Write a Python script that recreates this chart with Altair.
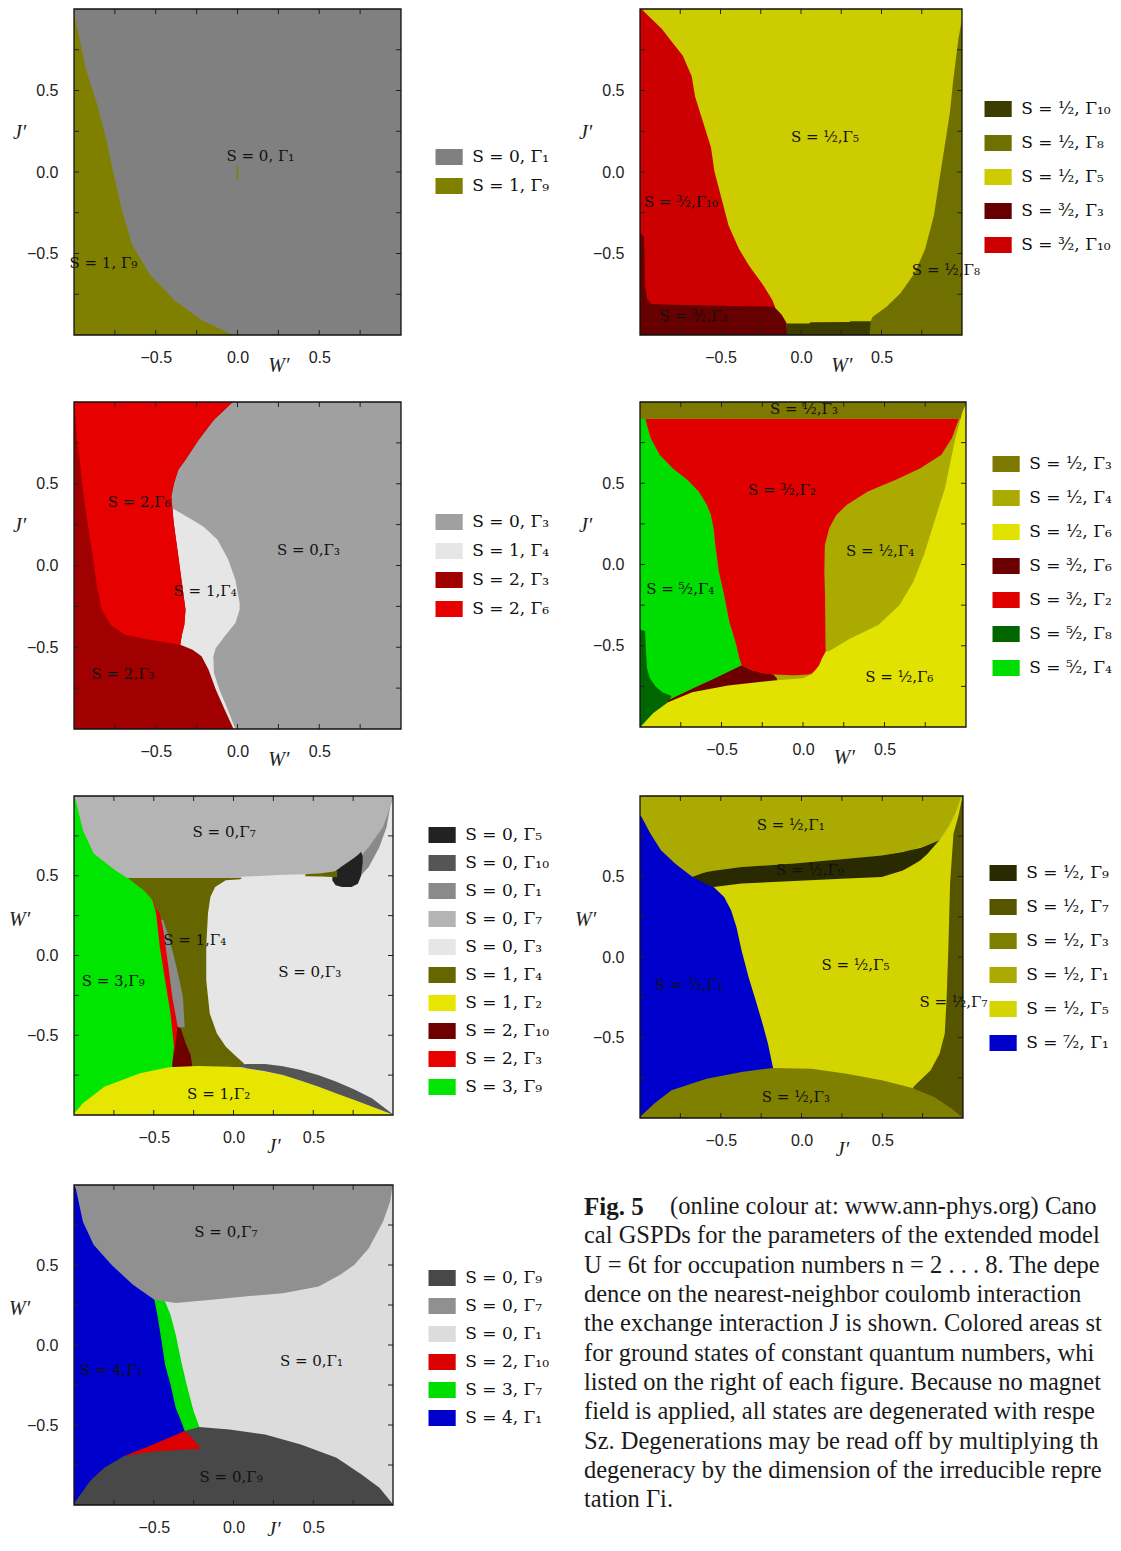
import altair as alt
import pandas as pd

# ---------------- shared tick values ----------------
TICKS = [-0.75, -0.5, -0.25, 0.0, 0.25, 0.5, 0.75]
LABEL_TICKS = [-0.5, 0.0, 0.5]

# ---------------- Panel 1 (n=2) ----------------
P1_STATES = ["S = 0, Γ₁", "S = 1, Γ₉"]
P1_COLORS = ["#808080", "#808000"]
P1_G9_Y = [-1.0, -0.996, -0.914, -0.79, -0.629, -0.446, -0.222, 0.022, 0.226, 0.43, 0.633, 0.93, 0.97]
P1_G9_X = [-0.013, -0.035, -0.209, -0.383, -0.536, -0.645, -0.71, -0.765, -0.808, -0.863, -0.928, -0.99, -1.0]
P1_SEG_X = [0.0]
P1_SEG_LO = [-0.05]
P1_SEG_HI = [0.04]
P1_LAB_T = ["S = 0, Γ₁", "S = 1, Γ₉"]
P1_LAB_X = [0.14, -0.82]
P1_LAB_Y = [0.10, -0.56]

# ---------------- Panel 2 (n=3) ----------------
P2_STATES = ["S = ¹⁄₂, Γ₁₀", "S = ¹⁄₂, Γ₈", "S = ¹⁄₂, Γ₅", "S = ³⁄₂, Γ₃", "S = ³⁄₂, Γ₁₀"]
P2_COLORS = ["#3c3c00", "#707000", "#cccc00", "#660000", "#cc0000"]
P2_RED_Y = [-0.83, -0.786, -0.682, -0.578, -0.473, -0.328, -0.161, 0.005, 0.151, 0.255, 0.359, 0.463, 0.588, 0.713, 0.796, 0.879, 0.994, 1.0]
P2_RED_X = [-0.16, -0.178, -0.243, -0.32, -0.385, -0.45, -0.494, -0.538, -0.559, -0.592, -0.625, -0.658, -0.679, -0.734, -0.80, -0.865, -0.985, -0.99]
P2_DR_X = [-1.0, -0.975, -0.968, -0.955, -0.93, -0.80, -0.5, -0.167, -0.12, -0.09, -0.085]
P2_DR_TOP = [-0.37, -0.40, -0.70, -0.78, -0.81, -0.815, -0.82, -0.827, -0.875, -0.927, -1.0]
P2_BAND_X = [-0.09, 0.05, 0.06, 0.30, 0.31, 0.44]
P2_BAND_TOP = [-0.93, -0.93, -0.922, -0.92, -0.915, -0.915]
P2_G8_Y = [-1.0, -0.915, -0.89, -0.827, -0.744, -0.619, -0.473, -0.265, -0.057, 0.151, 0.359, 0.567, 0.817, 0.94, 1.0]
P2_G8_X = [0.426, 0.433, 0.444, 0.531, 0.618, 0.706, 0.771, 0.826, 0.858, 0.891, 0.924, 0.946, 0.978, 1.0, 1.0]
P2_LAB_T = ["S = ¹⁄₂,Γ₅", "S = ³⁄₂,Γ₁₀", "S = ³⁄₂,Γ₃", "S = ¹⁄₂,Γ₈"]
P2_LAB_X = [0.149, -0.745, -0.668, 0.90]
P2_LAB_Y = [0.213, -0.186, -0.886, -0.60]

# ---------------- Panel 3 (n=4) ----------------
P3_STATES = ["S = 0, Γ₃", "S = 1, Γ₄", "S = 2, Γ₃", "S = 2, Γ₆"]
P3_COLORS = ["#a0a0a0", "#e6e6e6", "#a00000", "#e60000"]
P3_LG_Y = [-1.0, -0.861, -0.759, -0.657, -0.555, -0.505, -0.433, -0.352, -0.27, -0.229, -0.087, 0.036, 0.158, 0.239, 0.29, 0.352]
P3_LG_X = [-0.013, -0.068, -0.111, -0.144, -0.148, -0.133, -0.078, -0.013, 0.013, 0.013, -0.013, -0.057, -0.122, -0.209, -0.296, -0.401]
P3_RED_Y = [-0.484, -0.454, -0.423, -0.362, -0.27, -0.107, 0.056, 0.26, 0.423, 0.505, 0.586, 0.647, 0.77, 0.892, 0.994, 1.0]
P3_RED_LO = [-0.35, -0.536, -0.688, -0.776, -0.83, -0.863, -0.885, -0.917, -0.94, -0.95, -0.958, -0.965, -0.983, -0.99, -0.998, -1.0]
P3_RED_HI = [-0.35, -0.345, -0.34, -0.325, -0.318, -0.34, -0.362, -0.39, -0.405, -0.388, -0.362, -0.318, -0.236, -0.144, -0.035, -0.03]
P3_DR_Y = [-1.0, -0.882, -0.759, -0.637, -0.555, -0.515]
P3_DR_X = [-0.024, -0.078, -0.133, -0.177, -0.22, -0.275]
P3_LAB_T = ["S = 2,Γ₆", "S = 0,Γ₃", "S = 1,Γ₄", "S = 2,Γ₃"]
P3_LAB_X = [-0.601, 0.434, -0.198, -0.70]
P3_LAB_Y = [0.388, 0.097, -0.154, -0.664]

# ---------------- Panel 4 (n=5) ----------------
P4_STATES = ["S = ¹⁄₂, Γ₃", "S = ¹⁄₂, Γ₄", "S = ¹⁄₂, Γ₆", "S = ³⁄₂, Γ₆", "S = ³⁄₂, Γ₂", "S = ⁵⁄₂, Γ₈", "S = ⁵⁄₂, Γ₄"]
P4_COLORS = ["#7d7800", "#aaaa00", "#e2e200", "#6a0000", "#e00000", "#006600", "#00dd00"]
P4_GR_Y = [-0.835, -0.80, -0.76, -0.70, -0.62, -0.579, -0.537, -0.496, -0.353, -0.188, -0.044, 0.12, 0.223, 0.305, 0.367, 0.449, 0.521, 0.593, 0.675, 0.778, 0.897, 1.0]
P4_GR_X = [-0.828, -0.754, -0.67, -0.54, -0.376, -0.39, -0.40, -0.409, -0.452, -0.484, -0.516, -0.538, -0.549, -0.565, -0.59, -0.64, -0.71, -0.80, -0.88, -0.935, -0.968, -0.99]
P4_DG_Y = [-1.0, -0.835, -0.809, -0.788, -0.753, -0.70, -0.64, -0.50, -0.41, -0.40]
P4_DG_X = [-0.82, -0.82, -0.806, -0.86, -0.903, -0.94, -0.957, -0.965, -0.968, -1.0]
P4_DR_X = [-0.828, -0.754, -0.67, -0.54, -0.376, -0.312, -0.183, -0.16, -0.155]
P4_DR_TOP = [-0.835, -0.80, -0.76, -0.70, -0.62, -0.651, -0.677, -0.70, -1.0]
P4_RED_Y = [-0.681, -0.677, -0.671, -0.651, -0.62, -0.579, -0.537, -0.496, -0.353, -0.188, -0.044, 0.12, 0.223, 0.305, 0.367, 0.449, 0.521, 0.593, 0.675, 0.778, 0.897]
P4_RED_LO = [-0.06, -0.183, -0.25, -0.312, -0.376, -0.39, -0.40, -0.409, -0.452, -0.484, -0.516, -0.538, -0.549, -0.565, -0.59, -0.64, -0.71, -0.80, -0.88, -0.935, -0.968]
P4_RED_HI = [-0.05, 0.03, 0.054, 0.075, 0.10, 0.118, 0.14, 0.138, 0.137, 0.135, 0.131, 0.134, 0.161, 0.204, 0.269, 0.398, 0.57, 0.72, 0.849, 0.914, 0.957]
P4_BAND_X = [-1.0, 1.0]
P4_BAND_LO = [0.897, 0.897]
P4_YB_X = [-1.0, -0.989, -0.92, -0.828, -0.68, -0.46, -0.18, 0.0, 0.054, 0.097, 0.118, 0.14, 0.161, 0.29, 0.462, 0.591, 0.677, 0.742, 0.806, 0.871, 0.935, 0.979, 0.996, 1.0]
P4_YB_TOP = [-1.0, -0.99, -0.915, -0.848, -0.786, -0.745, -0.714, -0.70, -0.675, -0.625, -0.575, -0.535, -0.532, -0.455, -0.373, -0.25, -0.106, 0.059, 0.264, 0.47, 0.778, 0.942, 0.98, 0.98]
P4_LAB_T = ["S = ¹⁄₂,Γ₃", "S = ³⁄₂,Γ₂", "S = ¹⁄₂,Γ₄", "S = ⁵⁄₂,Γ₄", "S = ¹⁄₂,Γ₆"]
P4_LAB_X = [0.006, -0.129, 0.473, -0.753, 0.591]
P4_LAB_Y = [0.955, 0.459, 0.083, -0.153, -0.692]

# ---------------- Panel 5 (n=6) ----------------
P5_STATES = ["S = 0, Γ₅", "S = 0, Γ₁₀", "S = 0, Γ₁", "S = 0, Γ₇", "S = 0, Γ₃", "S = 1, Γ₄", "S = 1, Γ₂", "S = 2, Γ₁₀", "S = 2, Γ₃", "S = 3, Γ₉"]
P5_COLORS = ["#222222", "#555555", "#8a8a8a", "#b4b4b4", "#e6e6e6", "#666600", "#e6e600", "#700000", "#e60000", "#00e600"]
P5_G1TR_X = [0.77, 0.848, 0.915, 0.96, 0.982, 1.0]
P5_G1TR_LO = [0.472, 0.555, 0.681, 0.806, 0.931, 0.99]
P5_G7_X = [-1.0, 0.041, 0.05, 0.31, 0.467, 0.624, 0.758, 0.848, 0.937, 0.982, 0.993, 1.0]
P5_G7_LO = [0.478, 0.478, 0.493, 0.507, 0.509, 0.518, 0.576, 0.681, 0.806, 0.931, 0.973, 1.0]
P5_BLK_X = [0.62, 0.64, 0.68, 0.74, 0.78, 0.80, 0.81]
P5_BLK_LO = [0.47, 0.44, 0.43, 0.43, 0.45, 0.50, 0.58]
P5_BLK_HI = [0.50, 0.53, 0.56, 0.60, 0.63, 0.65, 0.62]
P5_SLV_X = [0.45, 0.55, 0.65]
P5_SLV_LO = [0.497, 0.495, 0.49]
P5_SLV_HI = [0.51, 0.515, 0.53]
P5_OL_Y = [-0.70, -0.676, -0.635, -0.572, -0.489, -0.363, -0.154, 0.054, 0.263, 0.367, 0.43, 0.472, 0.478, 0.486]
P5_OL_X = [0.08, 0.064, 0.019, -0.048, -0.104, -0.149, -0.171, -0.171, -0.16, -0.145, -0.115, -0.048, 0.041, 0.055]
P5_G1_Y = [-0.45, -0.259, -0.154, -0.008, 0.117, 0.221, 0.24]
P5_G1_X = [-0.306, -0.317, -0.339, -0.373, -0.406, -0.44, -0.49]
P5_DR_Y = [-0.70, -0.68, -0.62, -0.55, -0.46, -0.44]
P5_DR_X = [-0.26, -0.26, -0.27, -0.30, -0.33, -0.36]
P5_RED_Y = [-0.70, -0.60, -0.447, -0.259, -0.05, 0.159, 0.263, 0.30, 0.35]
P5_RED_X = [-0.39, -0.37, -0.35, -0.384, -0.411, -0.44, -0.462, -0.49, -0.50]
P5_GR_Y = [-1.0, -0.676, -0.572, -0.363, -0.154, 0.054, 0.263, 0.347, 0.409, 0.478, 0.534, 0.639, 0.785, 0.973, 1.0]
P5_GR_X = [-0.384, -0.384, -0.373, -0.395, -0.429, -0.462, -0.485, -0.507, -0.563, -0.653, -0.742, -0.877, -0.944, -0.989, -1.0]
P5_YE_X = [-1.0, -0.944, -0.81, -0.586, -0.406, -0.227, -0.026, 0.086, 0.31, 0.534, 0.758, 0.893, 1.0]
P5_YE_TOP = [-0.99, -0.927, -0.823, -0.739, -0.701, -0.693, -0.697, -0.708, -0.749, -0.823, -0.906, -0.958, -1.0]
P5_DB_X = [0.041, 0.086, 0.198, 0.31, 0.422, 0.534, 0.646, 0.758, 0.87, 0.993]
P5_DB_LO = [-0.696, -0.708, -0.725, -0.749, -0.785, -0.823, -0.865, -0.906, -0.948, -0.996]
P5_DB_HI = [-0.685, -0.681, -0.681, -0.695, -0.718, -0.75, -0.791, -0.84, -0.896, -0.99]
P5_LAB_T = ["S = 0,Γ₇", "S = 1,Γ₄", "S = 0,Γ₃", "S = 3,Γ₉", "S = 1,Γ₂"]
P5_LAB_X = [-0.059, -0.243, 0.478, -0.754, -0.093]
P5_LAB_Y = [0.775, 0.10, -0.102, -0.161, -0.871]

# ---------------- Panel 6 (n=7) ----------------
P6_STATES = ["S = ¹⁄₂, Γ₉", "S = ¹⁄₂, Γ₇", "S = ¹⁄₂, Γ₃", "S = ¹⁄₂, Γ₁", "S = ¹⁄₂, Γ₅", "S = ⁷⁄₂, Γ₁"]
P6_COLORS = ["#2a2a00", "#555500", "#808000", "#aaaa00", "#d4d400", "#0000cc"]
P6_BL_Y = [-1.0, -0.689, -0.538, -0.414, -0.269, -0.124, 0.041, 0.186, 0.29, 0.373, 0.435, 0.50, 1.0]
P6_BL_X = [-0.176, -0.176, -0.208, -0.241, -0.284, -0.328, -0.371, -0.403, -0.436, -0.479, -0.544, -0.60, -0.60]
P6_G1_X = [-1.0, -0.99, -0.935, -0.87, -0.783, -0.675, -0.588, -0.371, -0.046, 0.28, 0.497, 0.67, 0.779, 0.855, 0.909, 0.952, 0.985, 1.0]
P6_G1_LO = [0.88, 0.87, 0.766, 0.663, 0.58, 0.497, 0.528, 0.559, 0.58, 0.611, 0.631, 0.663, 0.694, 0.725, 0.807, 0.89, 0.983, 1.0]
P6_G9_X = [-0.675, -0.588, -0.544, -0.371, -0.046, 0.28, 0.497, 0.627, 0.67, 0.735, 0.779, 0.844, 0.855]
P6_G9_LO = [0.497, 0.45, 0.435, 0.456, 0.472, 0.487, 0.497, 0.538, 0.56, 0.60, 0.64, 0.714, 0.725]
P6_G9_HI = [0.497, 0.528, 0.535, 0.559, 0.58, 0.611, 0.631, 0.652, 0.663, 0.677, 0.694, 0.72, 0.725]
P6_G7_Y = [-1.0, -0.807, -0.704, -0.6, -0.476, -0.269, 0.041, 0.456, 0.766, 0.87, 0.99, 1.0]
P6_G7_X = [0.68, 0.692, 0.8, 0.855, 0.887, 0.898, 0.909, 0.92, 0.941, 0.97, 0.996, 1.0]
P6_G3_X = [-1.0, -0.913, -0.805, -0.588, -0.371, -0.176, 0.063, 0.28, 0.497, 0.681, 0.822, 0.931, 1.0]
P6_G3_TOP = [-0.994, -0.911, -0.828, -0.756, -0.714, -0.689, -0.694, -0.725, -0.766, -0.812, -0.869, -0.942, -1.0]
P6_LAB_T = ["S = ¹⁄₂,Γ₁", "S = ¹⁄₂,Γ₉", "S = ¹⁄₂,Γ₅", "S = ⁷⁄₂,Γ₁", "S = ¹⁄₂,Γ₇", "S = ¹⁄₂,Γ₃"]
P6_LAB_X = [-0.067, 0.052, 0.334, -0.696, 0.941, -0.035]
P6_LAB_Y = [0.818, 0.542, -0.048, -0.176, -0.28, -0.87]

# ---------------- Panel 7 (n=8) ----------------
P7_STATES = ["S = 0, Γ₉", "S = 0, Γ₇", "S = 0, Γ₁", "S = 2, Γ₁₀", "S = 3, Γ₇", "S = 4, Γ₁"]
P7_COLORS = ["#484848", "#909090", "#dcdcdc", "#dd0000", "#00dd00", "#0000cc"]
P7_GR_Y = [-0.55, -0.507, -0.414, -0.247, -0.102, 0.064, 0.189, 0.272, 0.30]
P7_GR_X = [-0.21, -0.216, -0.25, -0.294, -0.328, -0.362, -0.395, -0.429, -0.45]
P7_BL_Y = [-1.0, -0.538, -0.476, -0.393, -0.247, -0.123, 0.023, 0.168, 0.283, 0.30, 1.0]
P7_BL_X = [-0.306, -0.306, -0.328, -0.362, -0.395, -0.429, -0.451, -0.474, -0.496, -0.50, -0.50]
P7_G7_X = [-1.0, -0.989, -0.944, -0.877, -0.765, -0.63, -0.496, -0.362, -0.138, 0.086, 0.31, 0.534, 0.669, 0.758, 0.848, 0.937, 0.982, 0.993, 1.0]
P7_G7_LO = [1.0, 0.979, 0.771, 0.626, 0.501, 0.376, 0.283, 0.262, 0.283, 0.304, 0.324, 0.366, 0.439, 0.501, 0.605, 0.771, 0.896, 0.969, 1.0]
P7_G9_X = [-1.0, -0.899, -0.81, -0.686, -0.5, -0.40, -0.306, -0.216, -0.026, 0.198, 0.422, 0.646, 0.803, 0.915, 1.0]
P7_G9_TOP = [-0.99, -0.85, -0.767, -0.694, -0.65, -0.60, -0.538, -0.513, -0.528, -0.559, -0.622, -0.705, -0.809, -0.892, -0.996]
P7_RED_X = [-0.686, -0.5, -0.306, -0.25, -0.205]
P7_RED_LO = [-0.694, -0.665, -0.655, -0.652, -0.65]
P7_RED_HI = [-0.694, -0.62, -0.538, -0.59, -0.65]
P7_LAB_T = ["S = 0,Γ₇", "S = 0,Γ₁", "S = 4,Γ₁", "S = 0,Γ₉"]
P7_LAB_X = [-0.048, 0.489, -0.765, -0.015]
P7_LAB_Y = [0.709, -0.098, -0.154, -0.825]

# ---------------- Caption ----------------
CAP_HEAD = "Fig. 5"
CAP_FIRST = "(online colour at: www.ann-phys.org) Canoni-"
CAP_LINES = [
    "cal GSPDs for the parameters of the extended model at",
    "U = 6t for occupation numbers n = 2 . . . 8. The depen-",
    "dence on the nearest-neighbor coulomb interaction W and",
    "the exchange interaction J is shown. Colored areas stand",
    "for ground states of constant quantum numbers, which are",
    "listed on the right of each figure. Because no magnetic",
    "field is applied, all states are degenerated with respect to",
    "Sz. Degenerations may be read off by multiplying the spin",
    "degeneracy by the dimension of the irreducible represen-",
    "tation Γi.",
]

SQ = "M-1.7,-1L1.7,-1L1.7,1L-1.7,1Z"


def sc():
    return alt.Scale(domain=[-1, 1], nice=False, zero=False)


def build_panel(W, H, xtitle, ytitle, states, colors, lx, ly, rowpad, regions, labels, xt_y=30):
    ax_x = alt.Axis(
        values=LABEL_TICKS, format=".1f", title=xtitle, titleAngle=0,
        titleX=0.625 * W, titleY=xt_y, titleAlign="center", titleBaseline="middle",
        labelPadding=14)
    ax_y = alt.Axis(
        values=LABEL_TICKS, format=".1f", title=ytitle, titleAngle=0,
        titleX=-55, titleY=123, titleAlign="center", titleBaseline="middle",
        labelPadding=16)
    color = alt.Color(
        "state:N",
        scale=alt.Scale(domain=states, range=colors),
        legend=alt.Legend(
            title=None, orient="none", legendX=lx, legendY=ly,
            symbolType=SQ, symbolSize=256, symbolStrokeWidth=0, symbolOpacity=1,
            labelFont="DejaVu Serif", labelFontSize=17, labelColor="#111",
            labelOffset=14.6, rowPadding=rowpad, padding=0, labelLimit=0,
        ),
    )

    def X(f):
        return alt.X(f, scale=sc(), axis=ax_x)

    def Y(f):
        return alt.Y(f, scale=sc(), axis=ax_y)

    layers = []
    for kind, state, a, lo, hi in regions:
        if kind == "v":
            df = pd.DataFrame({"x": a, "lo": lo, "hi": hi, "state": state})
            layers.append(
                alt.Chart(df).mark_area(orient="vertical", opacity=1).encode(
                    x=X("x:Q"), y=Y("lo:Q"), y2="hi:Q", color=color)
            )
        elif kind == "h":
            df = pd.DataFrame({"y": a, "lo": lo, "hi": hi, "state": state})
            layers.append(
                alt.Chart(df).mark_area(orient="horizontal", opacity=1).encode(
                    y=Y("y:Q"), x=X("lo:Q"), x2="hi:Q", color=color)
            )
        else:
            df = pd.DataFrame({"x": a, "lo": lo, "hi": hi, "state": state})
            layers.append(
                alt.Chart(df).mark_rule(strokeWidth=1.5).encode(
                    x=X("x:Q"), y=Y("lo:Q"), y2="hi:Q", color=color)
            )
    txt = pd.DataFrame({"t": labels[0], "x": labels[1], "y": labels[2]})
    text = alt.Chart(txt).mark_text(font="DejaVu Serif", fontSize=15, color="#111").encode(
        x=X("x:Q"), y=Y("y:Q"), text="t:N")
    tk = pd.DataFrame({"t": TICKS})
    tick_b = alt.Chart(tk).mark_rule(color="#222", strokeWidth=1).encode(
        x=X("t:Q"), y=alt.value(H), y2=alt.value(H - 5))
    tick_t = alt.Chart(tk).mark_rule(color="#222", strokeWidth=1).encode(
        x=X("t:Q"), y=alt.value(0), y2=alt.value(5))
    tick_l = alt.Chart(tk).mark_rule(color="#222", strokeWidth=1).encode(
        y=Y("t:Q"), x=alt.value(0), x2=alt.value(5))
    tick_r = alt.Chart(tk).mark_rule(color="#222", strokeWidth=1).encode(
        y=Y("t:Q"), x=alt.value(W), x2=alt.value(W - 5))
    frame = alt.Chart(pd.DataFrame({"a": [0]})).mark_rect(
        fillOpacity=0, stroke="#111", strokeWidth=1.3).encode(
        x=alt.value(0), x2=alt.value(W), y=alt.value(0), y2=alt.value(H))
    return alt.layer(*layers, tick_b, tick_t, tick_l, tick_r, text, frame).properties(
        width=W, height=H)


FULL = ([-1.0, 1.0], [-1.0, -1.0], [1.0, 1.0])

p1 = build_panel(
    327, 326, "W′", "J′", P1_STATES, P1_COLORS, 366.6, 139.5, 11,
    [
        ("v", P1_STATES[0], *FULL),
        ("h", P1_STATES[1], P1_G9_Y, [-1.0] * len(P1_G9_Y), P1_G9_X),
        ("r", P1_STATES[1], P1_SEG_X, P1_SEG_LO, P1_SEG_HI),
    ],
    (P1_LAB_T, P1_LAB_X, P1_LAB_Y),
)

p2 = build_panel(
    322, 326, "W′", "J′", P2_STATES, P2_COLORS, 349.6, 91.5, 16,
    [
        ("v", P2_STATES[2], *FULL),
        ("h", P2_STATES[4], P2_RED_Y, [-1.0] * len(P2_RED_Y), P2_RED_X),
        ("v", P2_STATES[3], P2_DR_X, [-1.0] * len(P2_DR_X), P2_DR_TOP),
        ("v", P2_STATES[0], P2_BAND_X, [-1.0] * len(P2_BAND_X), P2_BAND_TOP),
        ("h", P2_STATES[1], P2_G8_Y, P2_G8_X, [1.0] * len(P2_G8_Y)),
    ],
    (P2_LAB_T, P2_LAB_X, P2_LAB_Y),
)

p3 = build_panel(
    327, 327, "W′", "J′", P3_STATES, P3_COLORS, 366.6, 111.5, 11,
    [
        ("v", P3_STATES[0], *FULL),
        ("h", P3_STATES[1], P3_LG_Y, [-1.0] * len(P3_LG_Y), P3_LG_X),
        ("h", P3_STATES[2], P3_DR_Y + P3_RED_Y, [-1.0] * (len(P3_DR_Y) + len(P3_RED_Y)), P3_DR_X + P3_RED_HI),
        ("h", P3_STATES[3], P3_RED_Y, P3_RED_LO, P3_RED_HI),
    ],
    (P3_LAB_T, P3_LAB_X, P3_LAB_Y),
)

p4 = build_panel(
    326, 325, "W′", "J′", P4_STATES, P4_COLORS, 357.6, 53.5, 16,
    [
        ("v", P4_STATES[1], *FULL),
        ("h", P4_STATES[6], P4_GR_Y, [-1.0] * len(P4_GR_Y), P4_GR_X),
        ("h", P4_STATES[5], P4_DG_Y, [-1.0] * len(P4_DG_Y), P4_DG_X),
        ("v", P4_STATES[3], P4_DR_X, [-1.0] * len(P4_DR_X), P4_DR_TOP),
        ("h", P4_STATES[4], P4_RED_Y, P4_RED_LO, P4_RED_HI),
        ("v", P4_STATES[0], P4_BAND_X, P4_BAND_LO, [1.0, 1.0]),
        ("v", P4_STATES[2], P4_YB_X, [-1.0] * len(P4_YB_X), P4_YB_TOP),
    ],
    (P4_LAB_T, P4_LAB_X, P4_LAB_Y),
)

p5 = build_panel(
    319, 319, "J′", "W′", P5_STATES, P5_COLORS, 359.6, 30.5, 10,
    [
        ("v", P5_STATES[4], *FULL),
        ("v", P5_STATES[2], P5_G1TR_X, P5_G1TR_LO, [1.0] * len(P5_G1TR_X)),
        ("v", P5_STATES[3], P5_G7_X, P5_G7_LO, [1.0] * len(P5_G7_X)),
        ("v", P5_STATES[0], P5_BLK_X, P5_BLK_LO, P5_BLK_HI),
        ("v", P5_STATES[5], P5_SLV_X, P5_SLV_LO, P5_SLV_HI),
        ("h", P5_STATES[5], P5_OL_Y, [-0.7] * len(P5_OL_Y), P5_OL_X),
        ("h", P5_STATES[2], P5_G1_Y, [-0.7] * len(P5_G1_Y), P5_G1_X),
        ("h", P5_STATES[7], P5_DR_Y, [-0.7] * len(P5_DR_Y), P5_DR_X),
        ("h", P5_STATES[8], P5_RED_Y, [-0.7] * len(P5_RED_Y), P5_RED_X),
        ("h", P5_STATES[9], P5_GR_Y, [-1.0] * len(P5_GR_Y), P5_GR_X),
        ("v", P5_STATES[6], P5_YE_X, [-1.0] * len(P5_YE_X), P5_YE_TOP),
        ("v", P5_STATES[1], P5_DB_X, P5_DB_LO, P5_DB_HI),
    ],
    (P5_LAB_T, P5_LAB_X, P5_LAB_Y),
    xt_y=31,
)

p6 = build_panel(
    323, 322, "J′", "W′", P6_STATES, P6_COLORS, 354.6, 68.5, 16,
    [
        ("v", P6_STATES[4], *FULL),
        ("h", P6_STATES[5], P6_BL_Y, [-1.0] * len(P6_BL_Y), P6_BL_X),
        ("v", P6_STATES[3], P6_G1_X, P6_G1_LO, [1.0] * len(P6_G1_X)),
        ("v", P6_STATES[0], P6_G9_X, P6_G9_LO, P6_G9_HI),
        ("h", P6_STATES[1], P6_G7_Y, P6_G7_X, [1.0] * len(P6_G7_Y)),
        ("v", P6_STATES[2], P6_G3_X, [-1.0] * len(P6_G3_X), P6_G3_TOP),
    ],
    (P6_LAB_T, P6_LAB_X, P6_LAB_Y),
    xt_y=31,
)

p7 = build_panel(
    319, 320, "J′", "W′", P7_STATES, P7_COLORS, 359.6, 84.5, 10,
    [
        ("v", P7_STATES[2], *FULL),
        ("h", P7_STATES[4], P7_GR_Y, [-1.0] * len(P7_GR_Y), P7_GR_X),
        ("h", P7_STATES[5], P7_BL_Y, [-1.0] * len(P7_BL_Y), P7_BL_X),
        ("v", P7_STATES[1], P7_G7_X, P7_G7_LO, [1.0] * len(P7_G7_X)),
        ("v", P7_STATES[0], P7_G9_X, [-1.0] * len(P7_G9_X), P7_G9_TOP),
        ("v", P7_STATES[3], P7_RED_X, P7_RED_LO, P7_RED_HI),
    ],
    (P7_LAB_T, P7_LAB_X, P7_LAB_Y),
    xt_y=24,
)

# caption
CAP_W = 519
ysc = alt.Scale(domain=[-0.75, 10.5], reverse=True, nice=False, zero=False)
cap_df = pd.DataFrame({"line": list(range(1, len(CAP_LINES) + 1)), "t": CAP_LINES})
cap_rest = alt.Chart(cap_df).mark_text(
    font="Liberation Serif", fontSize=24.5, align="left", baseline="middle", color="#1a1a1a",
    limit=CAP_W, ellipsis="\u200b"
).encode(
    x=alt.value(-56),
    y=alt.Y("line:Q", scale=ysc, axis=None),
    text="t:N",
)
first_df = pd.DataFrame({"line": [0], "t": [CAP_FIRST]})
cap_first = alt.Chart(first_df).mark_text(
    font="Liberation Serif", fontSize=24.5, align="left", baseline="middle", color="#1a1a1a",
    limit=CAP_W - 86, ellipsis="\u200b", dx=86
).encode(
    x=alt.value(-56),
    y=alt.Y("line:Q", scale=ysc, axis=None),
    text="t:N",
)
head_df = pd.DataFrame({"line": [0], "t": [CAP_HEAD]})
cap_head = alt.Chart(head_df).mark_text(
    font="Liberation Serif", fontSize=25, fontWeight="bold", align="left", baseline="middle", color="#1a1a1a"
).encode(
    x=alt.value(-56),
    y=alt.Y("line:Q", scale=ysc, axis=None),
    text="t:N",
)
caption = alt.layer(cap_rest, cap_first, cap_head).properties(width=CAP_W - 56, height=330)

chart = alt.concat(
    p1, p2, p3, p4, p5, p6, p7, caption,
    columns=2, spacing={"row": 67, "column": 239}, bounds="flush",
).resolve_scale(
    color="independent", x="independent", y="independent"
).properties(
    padding={"left": 0, "top": 0, "right": 0, "bottom": 0}
).configure_view(stroke=None).configure_axis(
    labelFont="Liberation Sans", labelFontSize=16, labelColor="#222",
    domain=False, ticks=False, tickSize=0, grid=False,
    titleFont="Liberation Serif", titleFontStyle="italic", titleFontWeight="normal",
    titleFontSize=20, titleColor="#222",
).configure_legend(symbolStrokeWidth=0)

chart.save("out.html", embed_options={"renderer": "svg", "actions": False})
